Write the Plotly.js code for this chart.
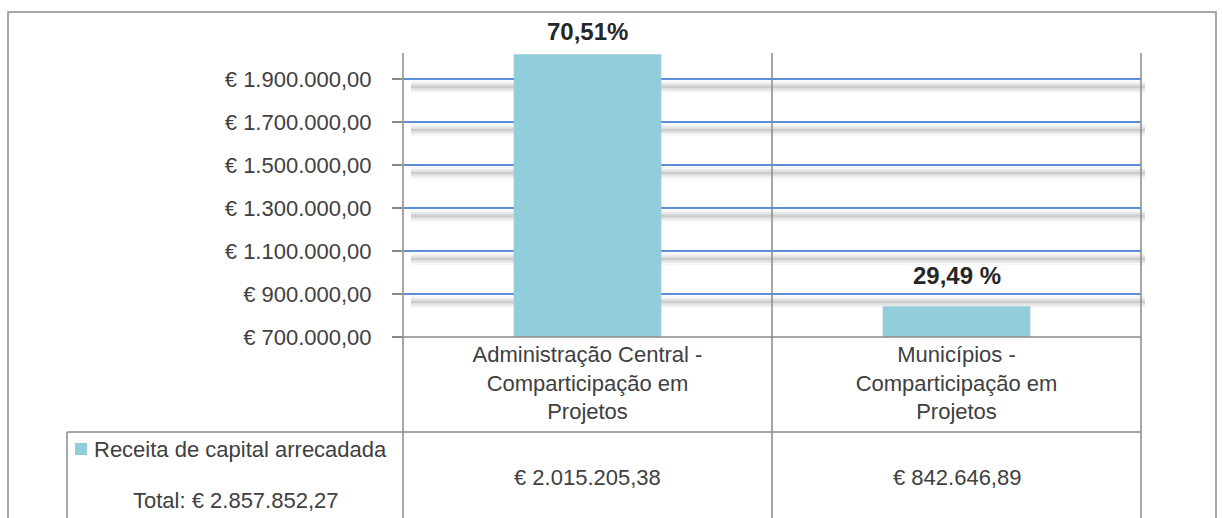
<!DOCTYPE html>
<html>
<head>
<meta charset="utf-8">
<script src="https://cdn.plot.ly/plotly-3.0.1.min.js"></script>
<style>html,body{margin:0;padding:0;background:#fff;}#chart{width:1223px;height:518px;}</style>
</head>
<body>
<div id="chart"></div>
<script>
// ---- data ----
const categories = ["Administração Central -<br>Comparticipação em<br>Projetos", "Municípios -<br>Comparticipação em<br>Projetos"];
const values = [2015205.38, 842646.89];
const pctLabels = ["70,51%", "29,49 %"];
const tableLabels = ["€ 2.015.205,38", "€ 842.646,89"];
const seriesName = "Receita de capital arrecadada";
const totalLabel = "Total: € 2.857.852,27";
const tickVals = [700000, 900000, 1100000, 1300000, 1500000, 1700000, 1900000];
const tickLabels = ["€ 700.000,00", "€ 900.000,00", "€ 1.100.000,00", "€ 1.300.000,00", "€ 1.500.000,00", "€ 1.700.000,00", "€ 1.900.000,00"];

// ---- layout geometry ----
const W = 1223, H = 518;
const L = 403, R = 82, T = 53, B = 181;
const pw = W - L - R, ph = H - T - B;
const fx = px => (px - L) / pw;
const fy = py => (H - B - py) / ph;
const FONT = "Liberation Sans, Arial, sans-serif";
const FS = 22;
const TXT = "#404040";
const LINE = "#8a8a8a";
const BAR = "#92CDDC";

const shapes = [];
// outer border
shapes.push({type: "rect", xref: "paper", yref: "paper", x0: fx(8), x1: fx(1216), y0: fy(540), y1: fy(12), line: {color: LINE, width: 1.5}});
// vertical lines (axis + dividers)
[403, 772, 1141].forEach(px => shapes.push({type: "line", xref: "paper", yref: "paper", x0: fx(px), x1: fx(px), y0: 1, y1: fy(540), line: {color: LINE, width: 1.5}}));
// x axis line incl. tick
shapes.push({type: "line", xref: "paper", yref: "paper", x0: fx(393), x1: 1, y0: 0, y1: 0, line: {color: LINE, width: 1.5}});
// table row top
shapes.push({type: "line", xref: "paper", yref: "paper", x0: fx(67), x1: 1, y0: fy(432), y1: fy(432), line: {color: LINE, width: 1.5}});
// legend cell left border
shapes.push({type: "line", xref: "paper", yref: "paper", x0: fx(67), x1: fx(67), y0: fy(432), y1: fy(540), line: {color: LINE, width: 1.5}});
// legend key
shapes.push({type: "rect", xref: "paper", yref: "paper", x0: fx(75), x1: fx(87), y0: fy(455), y1: fy(443), fillcolor: BAR, line: {width: 0}});
// gridline shadows
const shadowLayers = [[12, 0.035], [8, 0.045], [5, 0.06], [2, 0.07]];
tickVals.slice(1).forEach(v => {
  shadowLayers.forEach(([w, a]) => shapes.push({
    type: "line", layer: "below",
    xref: "paper", xsizemode: "pixel", xanchor: 0, x0: 8, x1: 742,
    yref: "y", ysizemode: "pixel", yanchor: v, y0: -8, y1: -8,
    line: {color: `rgba(0,0,0,${a})`, width: w}
  }));
});

const annotations = [];
const shifts = [7, 15];
categories.forEach((c, i) => {
  annotations.push({x: c, y: values[i], xref: "x", yref: "y", xanchor: "center", text: "<b>" + pctLabels[i] + "</b>", showarrow: false, yanchor: "bottom", yshift: shifts[i], font: {family: FONT, size: 24, color: "#262626"}});
  annotations.push({x: c, y: fy(478), xref: "x", yref: "paper", xanchor: "center", yanchor: "middle", text: tableLabels[i], showarrow: false, font: {family: FONT, size: FS, color: TXT}});
});
annotations.push({x: fx(92), y: fy(449), xref: "paper", yref: "paper", xanchor: "left", yanchor: "middle", text: seriesName, showarrow: false, font: {family: FONT, size: FS, color: TXT}});
annotations.push({x: fx(236), y: fy(500), xref: "paper", yref: "paper", xanchor: "center", yanchor: "middle", text: totalLabel, showarrow: false, font: {family: FONT, size: FS, color: TXT}});

const trace = {type: "bar", x: categories, y: values, width: 0.4, marker: {color: BAR, line: {width: 0}}, hoverinfo: "none", cliponaxis: false};

const layout = {
  width: W, height: H,
  margin: {l: L, r: R, t: T, b: B, pad: 0},
  paper_bgcolor: "#fff", plot_bgcolor: "rgba(0,0,0,0)",
  showlegend: false,
  bargap: 0.6,
  xaxis: {type: "category", showline: false, showgrid: false, zeroline: false, ticks: "", ticklabelstandoff: 2, tickfont: {family: FONT, size: FS, color: TXT}, tickangle: 0, fixedrange: true},
  yaxis: {range: [700000, 2021000], tickvals: tickVals, ticktext: tickLabels, ticks: "outside", ticklen: 10, tickwidth: 1.5, tickcolor: LINE, ticklabelstandoff: 16,
          tickfont: {family: FONT, size: FS, color: TXT}, showgrid: true, gridcolor: "#5B8FD8", gridwidth: 2, zeroline: false, showline: false, fixedrange: true},
  shapes: shapes,
  annotations: annotations,
  font: {family: FONT, color: TXT}
};
Plotly.newPlot("chart", [trace], layout, {displayModeBar: false, staticPlot: true});
</script>
</body>
</html>
